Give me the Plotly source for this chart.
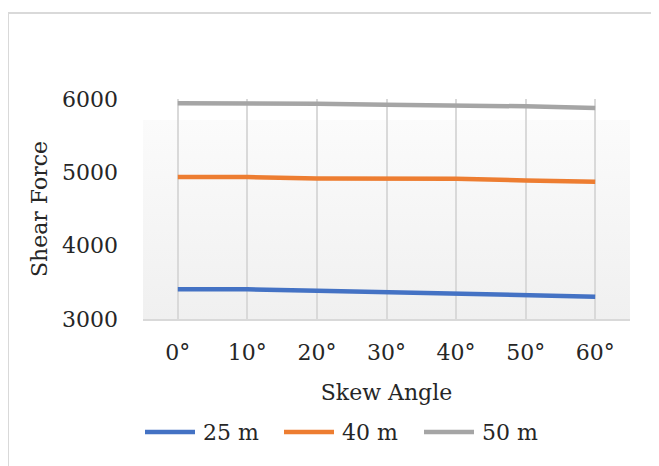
import base64
import plotly.graph_objects as go

# ---- data ----
angles = ["0°", "10°", "20°", "30°", "40°", "50°", "60°"]
span_25 = [3404, 3404, 3386, 3368, 3355, 3322, 3304]
span_40 = [4936, 4936, 4917, 4913, 4913, 4890, 4872]
span_50 = [5941, 5941, 5936, 5923, 5918, 5900, 5877]
series_names = ["25 m", "40 m", "50 m"]
y_ticks = [3000, 4000, 5000, 6000]

colors = ["#4472C4", "#ED7D31", "#A5A5A5"]
FONT = "DejaVu Serif"
TXT = "#262626"

W, H = 659, 466
OFF = 8  # page body margin offset
L, T = 143 - OFF, 99 - OFF
plot_w, plot_h = 487, 220
R = W - L - plot_w
B = H - T - plot_h


def px_to_paper_x(px):
    return (px - OFF - L) / plot_w


def px_to_paper_y(py):
    return (T + plot_h - (py - OFF)) / plot_h


fig = go.Figure()
for name, vals, c in zip(series_names, [span_25, span_40, span_50], colors):
    fig.add_trace(go.Scatter(
        x=angles, y=vals, name=name, mode="lines",
        line=dict(color=c, width=4.5), showlegend=False,
    ))

# gradient background for the plot area
svg = ('<svg xmlns="http://www.w3.org/2000/svg" width="100" height="100" preserveAspectRatio="none">'
       '<defs><linearGradient id="g" x1="0" y1="0" x2="0" y2="1">'
       '<stop offset="0" stop-color="#FBFBFB"/><stop offset="1" stop-color="#F0F0F0"/>'
       '</linearGradient></defs><rect width="100" height="100" fill="url(#g)"/></svg>')
src = "data:image/svg+xml;base64," + base64.b64encode(svg.encode()).decode()
top_grad = px_to_paper_y(120)
fig.add_layout_image(dict(
    source=src, xref="paper", yref="paper", x=0, y=top_grad,
    sizex=1, sizey=top_grad, sizing="stretch", layer="below",
    xanchor="left", yanchor="top",
))

# outer chart border
fig.add_shape(type="rect", xref="paper", yref="paper",
              x0=px_to_paper_x(8), y0=px_to_paper_y(540),
              x1=px_to_paper_x(740), y1=px_to_paper_y(13),
              line=dict(color="#D9D9D9", width=2), fillcolor="rgba(0,0,0,0)",
              layer="below")

# legend (drawn as line samples + labels)
legend_line_x = [143, 282, 422]
legend_y = 432
for name, c, lx in zip(series_names, colors, legend_line_x):
    fig.add_shape(type="line", xref="paper", yref="paper",
                  x0=px_to_paper_x(lx + 2), x1=px_to_paper_x(lx + 52),
                  y0=px_to_paper_y(legend_y), y1=px_to_paper_y(legend_y),
                  line=dict(color=c, width=4.5))
    fig.add_annotation(xref="paper", yref="paper",
                       x=px_to_paper_x(lx + 58), y=px_to_paper_y(legend_y),
                       xanchor="left", yanchor="middle", showarrow=False,
                       text=name, font=dict(family=FONT, size=22, color=TXT))

fig.update_layout(
    width=W, height=H,
    margin=dict(l=L, r=R, t=T, b=B, autoexpand=False),
    paper_bgcolor="white",
    plot_bgcolor="rgba(0,0,0,0)",
    font=dict(family=FONT, size=22, color=TXT),
    showlegend=False,
    xaxis=dict(
        type="category", range=[-0.5, 6.5],
        showgrid=True, gridcolor="#D9D9D9", gridwidth=1.5,
        showline=True, linecolor="#D9D9D9", linewidth=2,
        ticks="", ticklabelstandoff=13,
        tickfont=dict(family=FONT, size=22, color=TXT),
        title=dict(text="Skew Angle", font=dict(family=FONT, size=22, color=TXT), standoff=20),
        zeroline=False, fixedrange=True,
    ),
    yaxis=dict(
        range=[3000, 6000], tickvals=y_ticks,
        showgrid=False, showline=False, zeroline=False,
        ticks="", ticklabelstandoff=24,
        tickfont=dict(family=FONT, size=22, color=TXT),
        title=dict(text="Shear Force", font=dict(family=FONT, size=22, color=TXT), standoff=8),
        fixedrange=True,
    ),
)

fig.write_html("out.html")
